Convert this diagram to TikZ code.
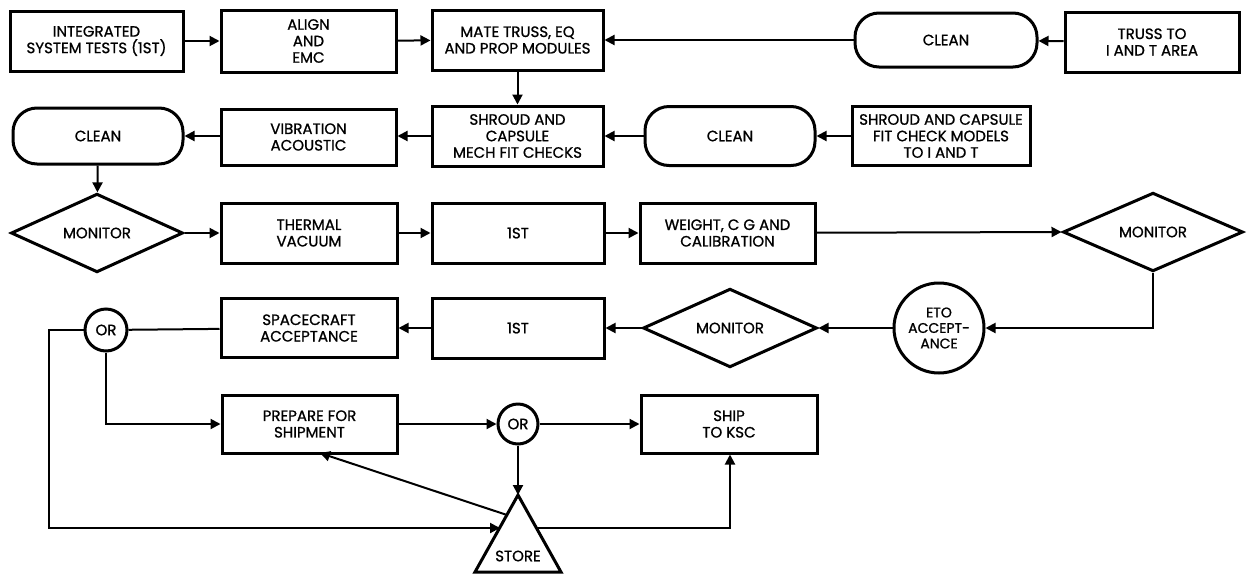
\documentclass[tikz,border=0pt]{standalone}
\usepackage{fontspec}
\setmainfont{Poppins}[FakeBold=1]
\usetikzlibrary{shapes.geometric,arrows.meta}
\begin{document}
\begin{tikzpicture}[x=1pt,y=-1pt,
  txt/.style={font=\fontsize{15}{16.5}\selectfont,align=center,inner sep=0pt},
  box/.style={txt,draw,line width=3pt,minimum width=175pt,minimum height=59pt},
  cleanbox/.style={box,rounded corners=24pt},
  monitor/.style={txt,draw,diamond,line width=3pt,minimum width=172pt,minimum height=60pt},
  orc/.style={txt,draw,circle,line width=3pt,minimum size=42pt},
  conn/.style={line width=2pt},
  arr/.style={conn,-{Triangle[length=10pt,width=10pt]}}
]
\useasboundingbox (0,0) rectangle (1248,574);
% row 1
\node[box,minimum width=173pt,minimum height=60pt] (ist) at (96.5,41) {INTEGRATED\\SYSTEM TESTS (1ST)};
\node[box,minimum height=62pt] (align) at (308.5,41) {ALIGN\\AND\\EMC};
\node[box,minimum width=171pt,minimum height=60pt] (mate) at (517.5,40) {MATE TRUSS, EQ\\AND PROP MODULES};
\node[cleanbox,minimum width=182pt,minimum height=54pt] (cleanA) at (946,40) {CLEAN};
\node[box,minimum width=174pt,minimum height=60pt] (truss) at (1152,42) {TRUSS TO\\I AND T AREA};
% row 2
\node[cleanbox,minimum width=170pt,minimum height=56pt] (cleanB) at (98,136) {CLEAN};
\node[box,minimum height=56pt] (vib) at (308.5,137) {VIBRATION\\ACOUSTIC};
\node[box,minimum width=171pt,minimum height=60pt] (shroud) at (517.5,136) {SHROUD AND\\CAPSULE\\MECH FIT CHECKS};
\node[cleanbox,minimum width=170pt,minimum height=59pt] (cleanC) at (730,136) {CLEAN};
\node[box,minimum width=178pt,minimum height=59pt] (fit) at (941,136) {SHROUD AND CAPSULE\\FIT CHECK MODELS\\TO I AND T};
% row 3
\node[monitor] (monA) at (97,233) {MONITOR};
\node[box,minimum width=176pt,minimum height=60pt] (therm) at (309,233) {THERMAL\\VACUUM};
\node[box,minimum width=172pt,minimum height=60pt] (istB) at (518,233) {1ST};
\node[box,minimum width=175pt,minimum height=60pt] (weight) at (727.5,233) {WEIGHT, C G AND\\CALIBRATION};
\node[monitor,minimum width=180pt,minimum height=62pt] (monB) at (1153,232) {MONITOR};
% row 4
\node[orc] (orA) at (106,330) {OR};
\node[box,minimum width=176pt,minimum height=59pt] (sc) at (309,328) {SPACECRAFT\\ACCEPTANCE};
\node[box,minimum width=172pt,minimum height=60pt] (istC) at (518,328) {1ST};
\node[monitor,minimum width=174pt,minimum height=60pt] (monC) at (730,328) {MONITOR};
\node[orc,minimum size=90pt,font=\fontsize{14}{15.5}\selectfont] (eto) at (939,328) {ETO\\ACCEPT-\\ANCE};
% row 5
\node[box,minimum width=175pt,minimum height=58pt] (prep) at (309.5,424) {PREPARE FOR\\SHIPMENT};
\node[orc,minimum size=40pt] (orB) at (518,424) {OR};
\node[box,minimum width=176pt,minimum height=58pt] (ship) at (729,424) {SHIP\\TO KSC};
% store triangle
\coordinate (stTop) at (518,495);
\coordinate (stL) at (475,572);
\coordinate (stR) at (561,572);
\draw[line width=3pt,line join=miter] (stTop) -- (stR) -- (stL) -- cycle;
\node[txt] (store) at (518,556) {STORE};
\coordinate (stIn) at (500,528);
\coordinate (stOut) at (536,528);
\coordinate (stDiag) at (507,515);
\coordinate (prepBot) at (320,453);
\coordinate (loopL) at (49,330);
\coordinate (loopB) at (49,528);
\coordinate (shipB) at (730,528);
% connectors
\draw[arr] (ist) -- (align);
\draw[arr] (align) -- (mate);
\draw[arr] (cleanA) -- (mate);
\draw[arr] (truss) -- (cleanA);
\draw[arr] (mate) -- (shroud);
\draw[arr] (fit) -- (cleanC);
\draw[arr] (cleanC) -- (shroud);
\draw[arr] (shroud.west) -- (vib.east |- shroud.west);
\draw[arr] (vib.west |- cleanB.east) -- (cleanB.east);
\draw[arr] (cleanB) -- (monA);
\draw[arr] (monA) -- (therm);
\draw[arr] (therm) -- (istB);
\draw[arr] (istB) -- (weight);
\draw[arr] (weight) -- (monB.west);
\draw[arr] (monB.south) |- (eto.east);
\draw[arr] (eto) -- (monC.east);
\draw[arr] (monC.west) -- (istC);
\draw[arr] (istC) -- (sc);
\draw[conn] (sc) -- (orA);
\draw[arr] (orA.south) |- (prep.west);
\draw[arr] (orA.west) -- (loopL) -- (loopB) -- (stIn);
\draw[arr] (prep) -- (orB);
\draw[arr] (orB) -- (ship);
\draw[arr] (orB) -- (stTop);
\draw[arr] (stDiag) -- (prepBot);
\draw[arr] (stOut) -- (shipB) -- (ship.south -| shipB);
\end{tikzpicture}
\end{document}
